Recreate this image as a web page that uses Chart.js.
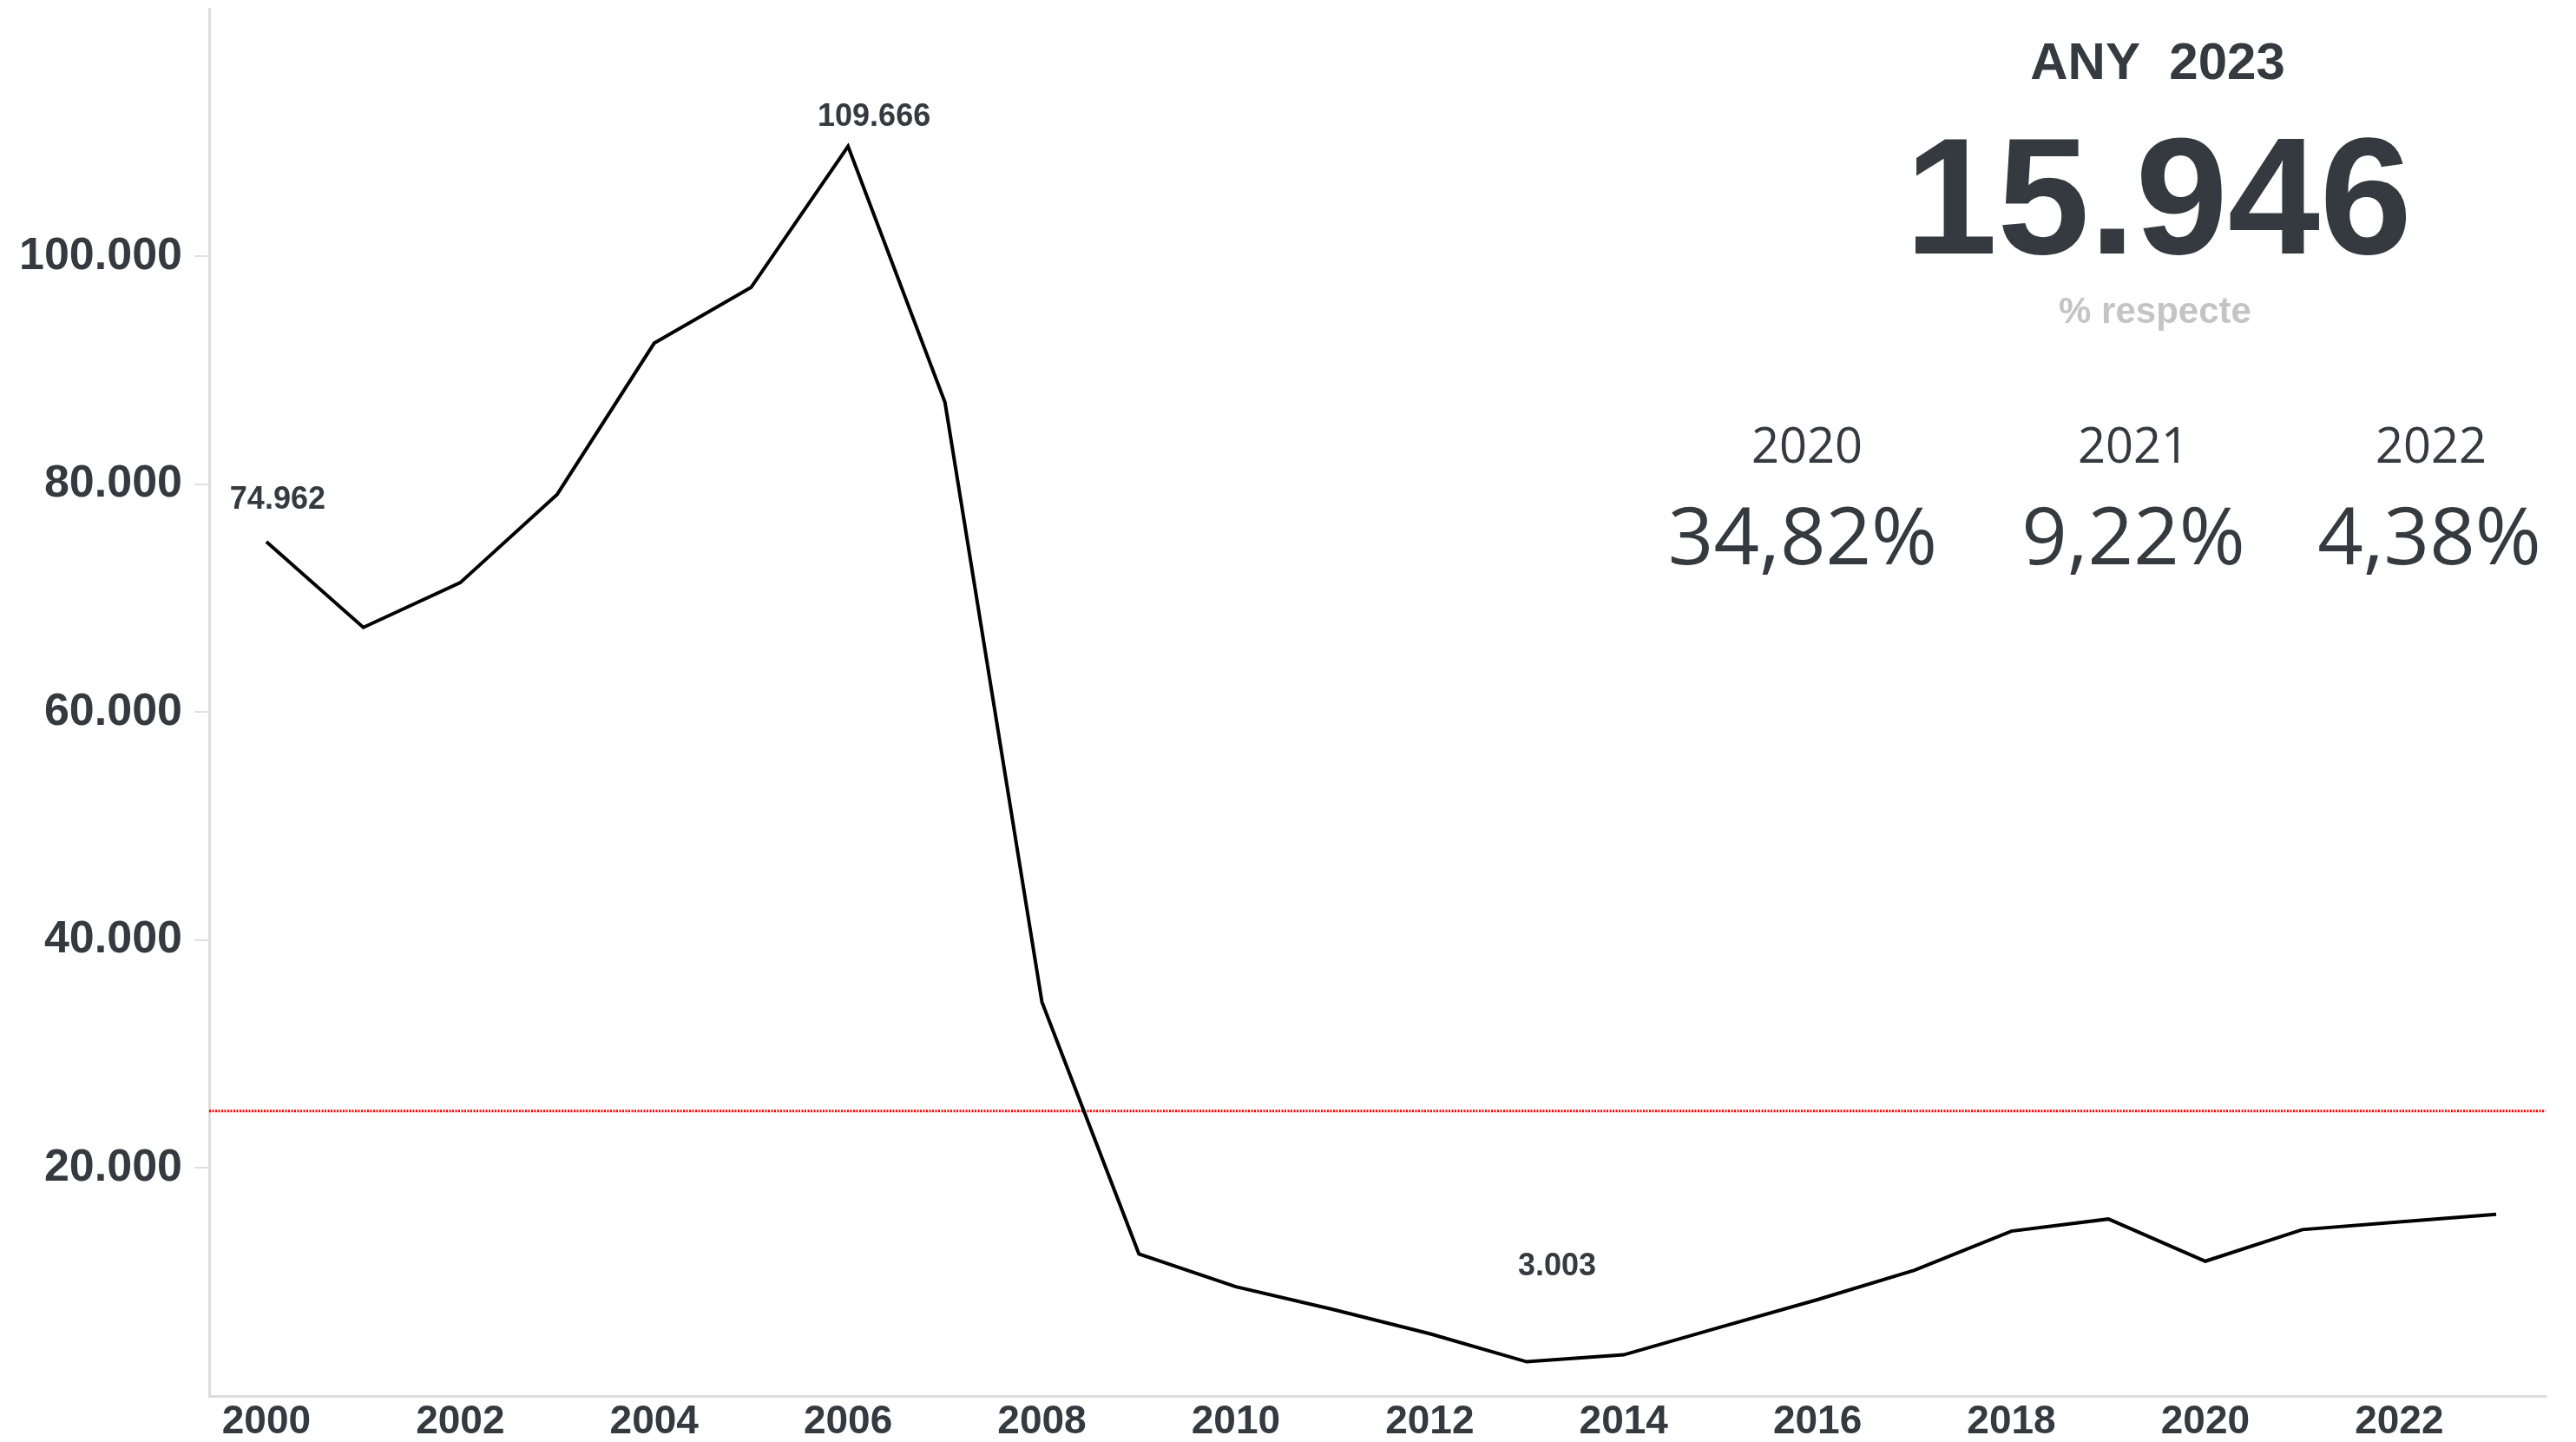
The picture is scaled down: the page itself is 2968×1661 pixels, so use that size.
<!DOCTYPE html>
<html>
<head>
<meta charset="utf-8">
<script src="https://cdn.jsdelivr.net/npm/chart.js@4"></script>
<style>
html,body{margin:0;padding:0;background:#fff;overflow:hidden;}
#wrap{position:relative;width:2968px;height:1661px;}
</style>
</head>
<body>
<div id="wrap"><canvas id="c" width="2968" height="1661"></canvas></div>
<script>
// ---- data ----
const years = [2000,2001,2002,2003,2004,2005,2006,2007,2008,2009,2010,2011,2012,2013,2014,2015,2016,2017,2018,2019,2020,2021,2022,2023];
const values = [74962,67450,71380,79130,92390,97290,109666,87190,34580,12470,9590,7600,5470,3003,3610,6050,8460,11030,14470,15530,11828,14600,15277,15946];
const xTickYears = [2000,2002,2004,2006,2008,2010,2012,2014,2016,2018,2020,2022];
const yTickValues = [20000,40000,60000,80000,100000];
const referenceValue = 25000;
const labeledYears = [2000,2006,2013];
const kpiTitle = 'ANY  2023';
const kpiValue = 15946;
const kpiSubtitle = '% respecte';
const compareYears = ['2020','2021','2022'];
const comparePct = ['34,82%','9,22%','4,38%'];

const TEXT = '#343a3f';
const fmt = n => String(n).replace(/\B(?=(\d{3})+(?!\d))/g, '.');

const X_MIN = 1999.41, X_MAX = 2023.51;

const overlay = {
  id: 'overlay',
  afterDatasetsDraw(chart) {
    const ctx = chart.ctx;
    const meta = chart.getDatasetMeta(0);
    ctx.save();
    // data labels
    const offs = {2000:[13,-38], 2006:[30,-24], 2013:[35,-100]};
    ctx.fillStyle = TEXT;
    ctx.font = 'bold 36px "Liberation Sans", Arial, sans-serif';
    ctx.textAlign = 'center';
    ctx.textBaseline = 'alphabetic';
    labeledYears.forEach(y => {
      const i = years.indexOf(y);
      const p = meta.data[i];
      const o = offs[y];
      ctx.fillText(fmt(values[i]), p.x + o[0], p.y + o[1]);
    });
    // KPI panel
    ctx.font = 'bold 60px "Liberation Sans", Arial, sans-serif';
    ctx.fillText(kpiTitle, 2486, 91);
    ctx.font = 'bold 191px "Liberation Sans", Arial, sans-serif';
    ctx.fillText(fmt(kpiValue), 2487, 292);
    ctx.fillStyle = '#c4c4c4';
    ctx.font = 'bold 42px "Liberation Sans", Arial, sans-serif';
    ctx.fillText(kpiSubtitle, 2483, 372);
    ctx.fillStyle = TEXT;
    const yc = [2082, 2458, 2801];
    const pc = [2077, 2458, 2799];
    ctx.font = '56px "Open Sans", sans-serif';
    compareYears.forEach((t,i) => ctx.fillText(t, yc[i], 533));
    ctx.font = '400 92px "Open Sans", sans-serif';
    comparePct.forEach((t,i) => ctx.fillText(t, pc[i], 650));
    ctx.restore();
  }
};

new Chart(document.getElementById('c'), {
  type: 'line',
  data: {
    datasets: [
      {
        data: years.map((y,i) => ({x:y, y:values[i]})),
        borderColor: '#000000',
        borderWidth: 4,
        pointRadius: 0,
        tension: 0,
        order: 1
      },
      {
        data: [{x:X_MIN, y:referenceValue},{x:X_MAX, y:referenceValue}],
        borderColor: '#ff0000',
        borderWidth: 3,
        borderDash: [2,1.5],
        pointRadius: 0,
        order: 2
      }
    ]
  },
  options: {
    responsive: false,
    animation: false,
    devicePixelRatio: 1,
    layout: { padding: { top: 10, right: 35, left: 0, bottom: 0 } },
    plugins: { legend: { display: false }, tooltip: { enabled: false } },
    scales: {
      x: {
        type: 'linear',
        min: X_MIN, max: X_MAX,
        afterBuildTicks: s => { s.ticks = xTickYears.map(v => ({value: v})); },
        afterFit: s => { s.height = 53; s.paddingLeft = 0; s.paddingRight = 0; },
        grid: { display: false },
        border: { display: true, color: '#dddddd', width: 3 },
        ticks: {
          color: TEXT,
          font: { family: '"Liberation Sans", Arial, sans-serif', size: 46, weight: 'bold' },
          padding: -5,
          maxRotation: 0,
          autoSkip: false,
          callback: v => String(v)
        }
      },
      y: {
        type: 'linear',
        min: 0, max: 121750,
        afterBuildTicks: s => { s.ticks = yTickValues.map(v => ({value: v})); },
        afterFit: s => { s.width = 241; s.paddingTop = 0; s.paddingBottom = 0; },
        grid: { drawOnChartArea: false, drawTicks: true, tickLength: 17, color: '#e0e0e0', lineWidth: 2 },
        border: { display: true, color: '#dddddd', width: 3 },
        ticks: {
          color: TEXT,
          font: { family: '"Liberation Sans", Arial, sans-serif', size: 52, weight: 'bold' },
          padding: 14,
          callback: v => fmt(v)
        }
      }
    }
  },
  plugins: [overlay]
});
</script>
</body>
</html>
